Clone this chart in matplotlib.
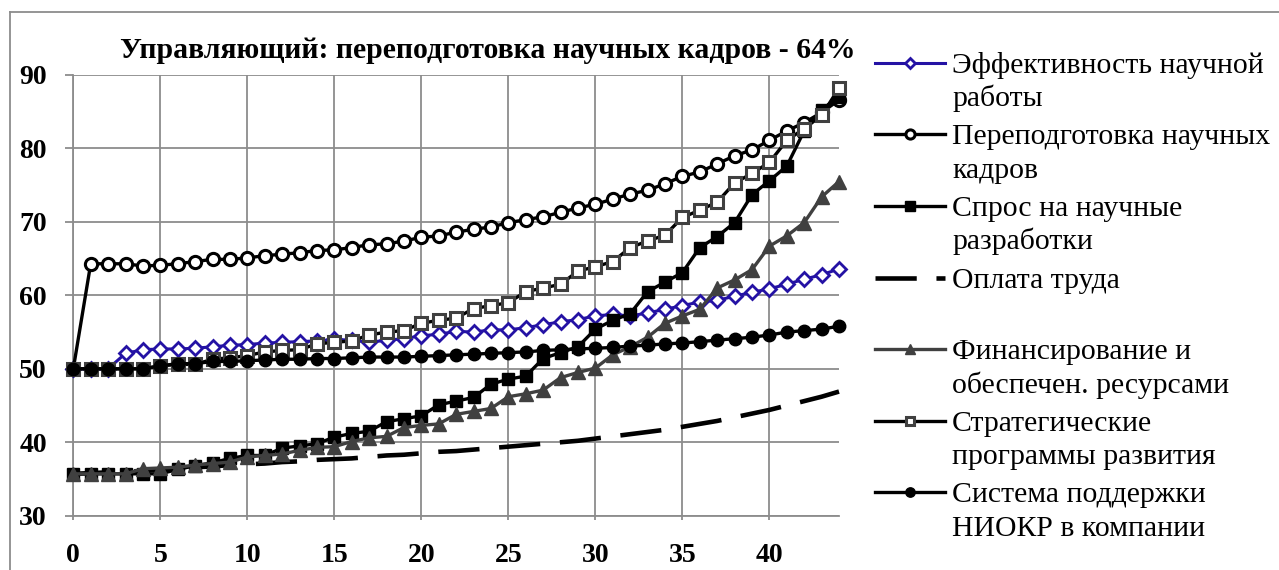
import numpy as np
import matplotlib.pyplot as plt
from matplotlib.lines import Line2D

plt.rcParams['font.family'] = ['Liberation Serif', 'DejaVu Serif']

#------------------------------------------------------------------------------
# data
x = list(range(45))

eff = [50.0, 50.0, 50.0, 52.1, 52.6, 52.7, 52.7, 52.8, 53.0, 53.2,
       53.3, 53.5, 53.6, 53.7, 53.8, 54.0, 53.9, 53.6, 53.9, 54.1,
       54.5, 54.7, 55.1, 55.0, 55.3, 55.3, 55.6, 56.0, 56.4, 56.7,
       57.2, 57.4, 57.2, 57.6, 58.1, 58.6, 59.1, 59.3, 59.9, 60.4,
       60.9, 61.5, 62.2, 62.8, 63.6]
retrain = [50.0, 64.3, 64.3, 64.3, 64.0, 64.1, 64.3, 64.6, 64.9, 64.9,
           65.1, 65.4, 65.6, 65.8, 66.1, 66.2, 66.5, 66.9, 67.0, 67.4,
           67.9, 68.1, 68.6, 69.0, 69.3, 69.9, 70.3, 70.7, 71.3, 71.9,
           72.4, 73.1, 73.8, 74.3, 75.2, 76.2, 76.8, 77.9, 79.0, 79.8,
           81.1, 82.4, 83.5, 84.9, 86.6]
demand = [35.7, 35.7, 35.7, 35.7, 35.7, 35.7, 36.3, 36.8, 37.2, 37.8,
          38.2, 38.2, 39.2, 39.5, 39.8, 40.7, 41.2, 41.5, 42.8, 43.2,
          43.6, 45.1, 45.6, 46.1, 47.9, 48.6, 49.0, 51.4, 52.2, 53.0,
          55.4, 56.6, 57.5, 60.5, 61.8, 63.1, 66.5, 68.0, 69.9, 73.7,
          75.6, 77.6, 82.4, 85.3, 87.0]
pay = [35.7, 35.8, 35.9, 36.0, 36.1, 36.3, 36.4, 36.6, 36.7, 36.9,
       37.0, 37.1, 37.3, 37.4, 37.6, 37.7, 37.8, 38.0, 38.2, 38.3,
       38.5, 38.7, 38.8, 39.0, 39.2, 39.4, 39.6, 39.8, 40.0, 40.2,
       40.5, 40.8, 41.1, 41.4, 41.7, 42.1, 42.5, 42.9, 43.4, 43.9,
       44.4, 45.0, 45.6, 46.2, 46.9]
finance = [35.7, 35.7, 35.7, 35.7, 36.4, 36.5, 36.6, 36.9, 37.1, 37.3,
           38.0, 38.2, 38.4, 38.9, 39.3, 39.4, 40.1, 40.6, 40.8, 42.0,
           42.3, 42.5, 43.8, 44.2, 44.6, 46.2, 46.6, 47.1, 48.8, 49.5,
           50.1, 51.9, 53.0, 54.3, 56.2, 57.2, 58.1, 61.0, 62.1, 63.5,
           66.7, 68.1, 69.9, 73.4, 75.5]
strategy = [50.0, 50.0, 50.0, 50.0, 50.0, 50.4, 50.6, 50.6, 51.3, 51.5,
            51.8, 52.3, 52.5, 52.6, 53.4, 53.6, 53.8, 54.6, 55.0, 55.2,
            56.2, 56.6, 56.9, 58.2, 58.6, 59.0, 60.5, 61.0, 61.5, 63.3,
            63.9, 64.6, 66.5, 67.4, 68.2, 70.6, 71.6, 72.7, 75.3, 76.6,
            78.1, 81.1, 82.7, 84.5, 88.2]
support = [50.0, 50.0, 50.0, 50.0, 50.0, 50.4, 50.7, 50.7, 51.0, 51.0,
           51.1, 51.2, 51.3, 51.3, 51.4, 51.4, 51.5, 51.6, 51.6, 51.6,
           51.7, 51.8, 51.9, 52.0, 52.1, 52.2, 52.3, 52.5, 52.6, 52.7,
           52.8, 52.9, 53.1, 53.2, 53.4, 53.5, 53.7, 53.9, 54.1, 54.3,
           54.6, 55.0, 55.2, 55.4, 55.8]

labels = ['Эффективность научной\nработы',
          'Переподготовка научных\nкадров',
          'Спрос на научные\nразработки',
          'Оплата труда',
          'Финансирование и\nобеспечен. ресурсами',
          'Стратегические\nпрограммы развития',
          'Система поддержки\nНИОКР в компании']
title = 'Управляющий: переподготовка научных кадров - 64%'

#------------------------------------------------------------------------------
W, H = 1279, 570
fig = plt.figure(figsize=(W / 100, H / 100), dpi=100)
ax = fig.add_axes([73.3 / W, 1 - 515.7 / H, (839 - 73.3) / W, (515.7 - 75) / H])

blue = '#2412a4'
dgray = '#404040'
grid = '#8c8c8c'
lw = 2.4

styles = [
    dict(color=blue, marker='D', ms=6.8, mfc='white', mec=blue, mew=2.0, lw=2.2),
    dict(color='k', marker='o', ms=8.8, mfc='white', mec='k', mew=2.2, lw=lw),
    dict(color='k', marker='s', ms=9.3, mfc='k', mec='k', mew=1.0, lw=lw),
    dict(color='k', lw=3.3, dashes=(9, 4.3)),
    dict(color=dgray, marker='^', ms=10.0, mfc=dgray, mec=dgray, mew=1.0, lw=lw),
    dict(color='k', marker='s', ms=8.6, mfc='white', mec=dgray, mew=2.2, lw=lw),
    dict(color='k', marker='o', ms=9.0, mfc='k', mec='k', mew=1.0, lw=lw),
]
series = [eff, retrain, demand, pay, finance, strategy, support]

for i, (ys, st) in enumerate(zip(series, styles)):
    ax.plot(x, ys, clip_on=False, zorder=3 + i, **st)

ax.set_xlim(0, 44)
ax.set_ylim(30, 90)
ax.set_xticks(np.arange(0, 41, 5))
ax.set_yticks(np.arange(30, 91, 10))
ax.grid(True, color=grid, lw=1.3)
ax.set_axisbelow(True)
for s in ['top', 'right']:
    ax.spines[s].set_visible(False)
for s in ['left', 'bottom']:
    ax.spines[s].set_color(grid)
    ax.spines[s].set_linewidth(1.3)
ax.tick_params(axis='y', length=6, width=1.3, color=grid, pad=13,
               labelsize=20)
ax.tick_params(axis='x', length=3, width=1.3, color=grid, pad=17,
               labelsize=20)
for t in ax.get_xticklabels() + ax.get_yticklabels():
    t.set_fontweight('bold')

# title
fig.text(487.5 / W, 1 - 58 / H, title, ha='center', va='baseline',
         fontsize=21.4, fontweight='bold')

# outer chart frame (runs off the right and bottom edges)
fig.add_artist(Line2D([10 / W, 10 / W], [0, 1 - 12 / H], color=grid, lw=1.3,
                      transform=fig.transFigure))
fig.add_artist(Line2D([10 / W, 1], [1 - 12 / H, 1 - 12 / H], color=grid,
                      lw=1.3, transform=fig.transFigure))

# legend, drawn by hand (Excel keeps a blank row after "Оплата труда")
rows = [0, 2, 4, 6, 8, 10, 12]
row_h = 35.8
line_gap = 33.5
for lab, st, r in zip(labels, styles, rows):
    base = 72.7 + r * row_h
    hy = 1 - (base - 10) / H
    line_st = {k: v for k, v in st.items() if k not in ('marker', 'ms', 'mfc', 'mec', 'mew')}
    fig.add_artist(Line2D([875 / W, 945 / W], [hy, hy], transform=fig.transFigure,
                          **line_st))
    if 'marker' in st:
        fig.add_artist(Line2D([910 / W], [hy], transform=fig.transFigure,
                              ls='none', marker=st['marker'], ms=st['ms'] * 0.75,
                              mfc=st['mfc'], mec=st['mec'], mew=st['mew']))
    for j, part in enumerate(lab.split('\n')):
        fig.text(952 / W, 1 - (base + j * line_gap) / H, part, ha='left',
                 va='baseline', fontsize=21.4)

fig.savefig('out.png', dpi=100)
